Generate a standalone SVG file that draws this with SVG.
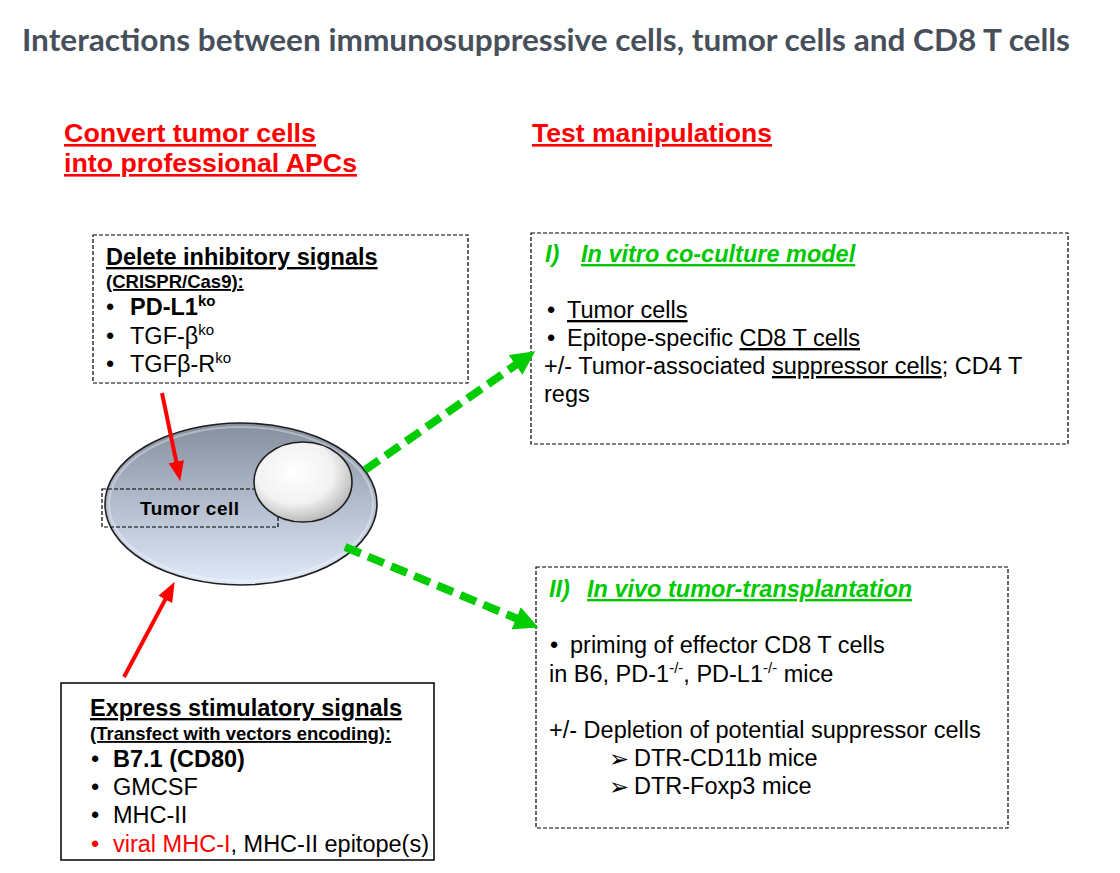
<svg xmlns="http://www.w3.org/2000/svg" width="1120" height="873" viewBox="0 0 1120 873">
<defs>
<style>
text{font-family:"Liberation Sans",Arial,sans-serif;fill:#000}
.b{font-weight:bold}
.t{font-size:23.5px}
.s{font-size:18.5px}
.u{text-decoration:underline}
.g{fill:#00c800;font-weight:bold;font-style:italic;font-size:23.5px}
.red{fill:#ff0000}
.dash{fill:none;stroke:#000;stroke-width:1.2;stroke-dasharray:4 2}
.ga{fill:none;stroke:#00cc00;stroke-width:8;stroke-dasharray:17 8}
.ra{fill:none;stroke:#ff0000;stroke-width:4}
.sup{font-size:15px}
.arr{font-family:"DejaVu Sans",sans-serif;font-size:24px}
</style>
<linearGradient id="cellg" x1="0" y1="0" x2="0" y2="1">
<stop offset="0" stop-color="#858e9d"/>
<stop offset="0.5" stop-color="#b3bdcd"/>
<stop offset="1" stop-color="#e0eaf9"/>
</linearGradient>
<radialGradient id="nucg" cx="0.42" cy="0.38" r="0.65">
<stop offset="0" stop-color="#ffffff"/>
<stop offset="0.6" stop-color="#f2f2f2"/>
<stop offset="1" stop-color="#b5b5b5"/>
</radialGradient>
<marker id="gh" markerUnits="userSpaceOnUse" markerWidth="24" markerHeight="24" viewBox="0 0 22 22" refX="6" refY="11" orient="auto">
<path d="M0,0 L22,11 L0,22 z" fill="#00cc00"/>
</marker>
<marker id="rh" markerUnits="userSpaceOnUse" markerWidth="20" markerHeight="16" viewBox="0 0 18 14" refX="6" refY="7" orient="auto">
<path d="M0,0 L18,7 L0,14 z" fill="#ff0000"/>
</marker>
</defs>
<rect width="1120" height="873" fill="#ffffff"/>

<g id="title">
<text x="22" y="51" style="font-family:Lato,'Open Sans',sans-serif;font-weight:bold;font-size:30px;fill:#47505a" textLength="1048" lengthAdjust="spacingAndGlyphs">Interactions between immunosuppressive cells, tumor cells and CD8 T cells</text>
</g>

<g id="headings">
<text x="64" y="142" class="b u red" style="font-size:26px" textLength="252" lengthAdjust="spacingAndGlyphs">Convert tumor cells</text>
<text x="64" y="172" class="b u red" style="font-size:26px" textLength="293" lengthAdjust="spacingAndGlyphs">into professional APCs</text>
<text x="532" y="142" class="b u red" style="font-size:26px" textLength="240" lengthAdjust="spacingAndGlyphs">Test manipulations</text>
</g>

<g id="delete-box">
<rect x="93" y="235" width="375" height="148" class="dash"/>
<text x="106" y="265" class="b t u">Delete inhibitory signals</text>
<text x="106" y="288" class="b s u">(CRISPR/Cas9):</text>
<text x="106" y="315" class="t">•</text>
<text x="130" y="315" class="t b">PD-L1<tspan class="sup" dy="-9">ko</tspan></text>
<text x="106" y="344" class="t">•</text>
<text x="130" y="344" class="t">TGF-β<tspan class="sup" dy="-9">ko</tspan></text>
<text x="106" y="372" class="t">•</text>
<text x="130" y="372" class="t">TGFβ-R<tspan class="sup" dy="-9">ko</tspan></text>
</g>

<g id="tumor-cell">
<ellipse cx="241" cy="504" rx="136" ry="81" fill="url(#cellg)" stroke="#1e1e1e" stroke-width="1.6"/>
<ellipse cx="241" cy="504" rx="132" ry="77" fill="none" stroke="#ffffff" stroke-opacity="0.35" stroke-width="2"/>
<rect x="102" y="489" width="176" height="38" class="dash"/>
<ellipse cx="303" cy="482" rx="49" ry="40" fill="url(#nucg)" stroke="#1e1e1e" stroke-width="1.6"/>
<text x="140" y="515" class="b" style="font-size:19px" textLength="99" lengthAdjust="spacing">Tumor cell</text>
</g>

<g id="express-box">
<rect x="61" y="683" width="373" height="177" fill="none" stroke="#000" stroke-width="1.5"/>
<text x="90" y="716" class="b t u">Express stimulatory signals</text>
<text x="90" y="740" class="b s u">(Transfect with vectors encoding):</text>
<text x="91" y="767" class="t">•</text>
<text x="113" y="767" class="t b">B7.1 (CD80)</text>
<text x="91" y="795" class="t">•</text>
<text x="113" y="795" class="t">GMCSF</text>
<text x="91" y="823" class="t">•</text>
<text x="113" y="823" class="t">MHC-II</text>
<text x="91" y="852" class="t red">•</text>
<text x="113" y="852" class="t"><tspan class="red">viral MHC-I</tspan>, MHC-II epitope(s)</text>
</g>

<g id="invitro-box">
<rect x="531" y="233" width="537" height="211" class="dash"/>
<text x="545" y="262" class="g">I)</text>
<text x="581" y="262" class="g u">In vitro co-culture model</text>
<text x="547" y="318" class="t">•</text>
<text x="567" y="318" class="t u">Tumor cells</text>
<text x="547" y="346" class="t">•</text>
<text x="567" y="346" class="t">Epitope-specific <tspan class="u">CD8 T cells</tspan></text>
<text x="544" y="374" class="t">+/- Tumor-associated <tspan class="u">suppressor cells</tspan>; CD4 T</text>
<text x="544" y="402" class="t">regs</text>
</g>

<g id="invivo-box">
<rect x="536" y="567" width="472" height="261" class="dash"/>
<text x="549" y="597" class="g">II)</text>
<text x="587" y="597" class="g u">In vivo tumor-transplantation</text>
<text x="550" y="653" class="t">•</text>
<text x="570" y="653" class="t">priming of effector CD8 T cells</text>
<text x="549" y="682" class="t">in B6, PD-1<tspan class="sup" dy="-9">-/-</tspan><tspan dy="9">, PD-L1</tspan><tspan class="sup" dy="-9">-/-</tspan><tspan dy="9"> mice</tspan></text>
<text x="549" y="738" class="t">+/- Depletion of potential suppressor cells</text>
<text x="609" y="767" class="arr">➢</text>
<text x="634" y="766" class="t">DTR-CD11b mice</text>
<text x="609" y="795" class="arr">➢</text>
<text x="634" y="794" class="t">DTR-Foxp3 mice</text>
</g>

<g id="connectors">
<line x1="162" y1="393" x2="177.6" y2="468.2" class="ra" marker-end="url(#rh)"/>
<line x1="124" y1="677" x2="168.4" y2="593.6" class="ra" marker-end="url(#rh)"/>
<line x1="365" y1="470" x2="520.9" y2="361.2" class="ga" marker-end="url(#gh)"/>
<line x1="345" y1="547" x2="522.2" y2="620.8" class="ga" marker-end="url(#gh)"/>
</g>
</svg>
